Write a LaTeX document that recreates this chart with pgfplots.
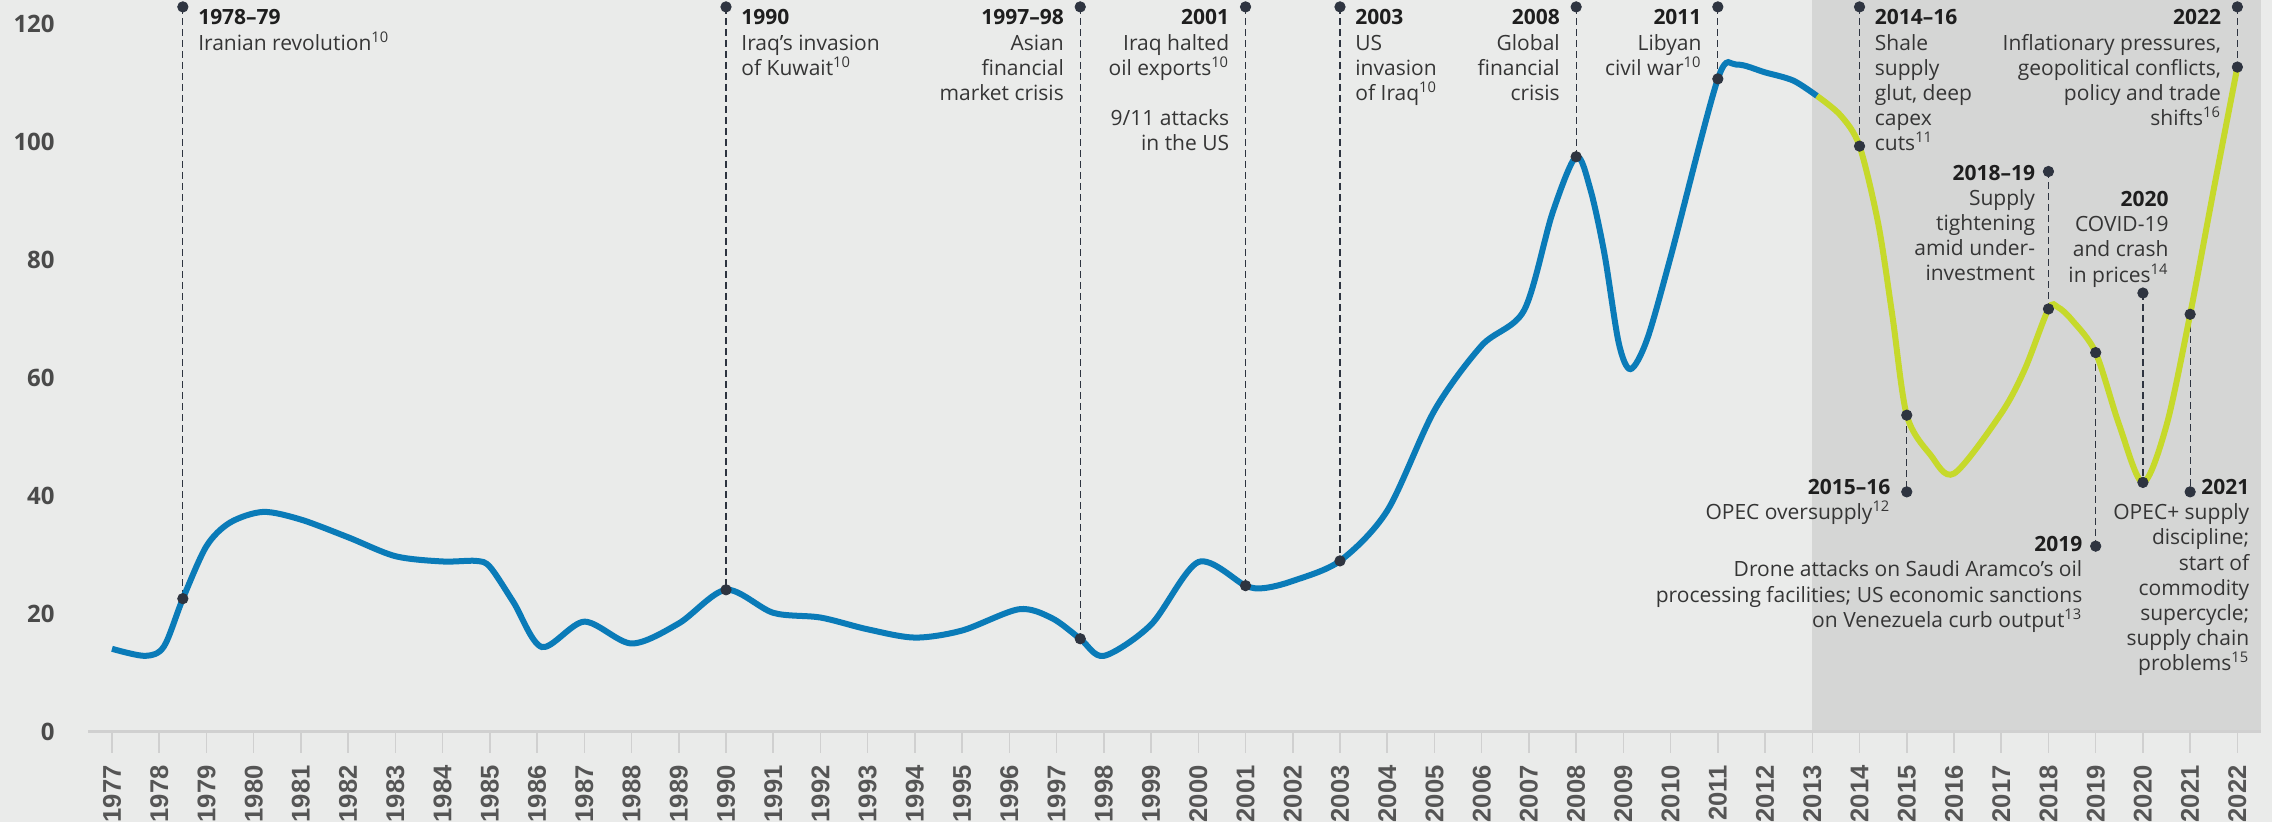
\documentclass[border=0pt]{standalone}
\usepackage{fontspec}
\setmainfont{Open Sans}
\newfontfamily\tickfont{Liberation Sans}
\usepackage{pgfplots}
\pgfplotsset{compat=1.18}

\definecolor{bgc}{HTML}{EAEBEA}
\definecolor{shadec}{HTML}{D5D6D5}
\definecolor{oilblue}{HTML}{0A7BB8}
\definecolor{oilgreen}{HTML}{C6D92B}
\definecolor{dotc}{HTML}{2E3440}
\definecolor{txt}{HTML}{353535}
\definecolor{head}{HTML}{1E1E1E}
\definecolor{tickc}{HTML}{555555}
\definecolor{ylab}{HTML}{4A4A4A}
\definecolor{axc}{HTML}{D0D0D0}

\tikzset{
  annR/.style={anchor=north west, align=left, inner sep=0pt, xshift=7.5pt,
     font=\fontsize{10.5}{12.6}\selectfont, text=txt},
  annL/.style={anchor=north east, align=right, inner sep=0pt, xshift=-8pt,
     font=\fontsize{10.5}{12.6}\selectfont, text=txt},
}

\begin{document}
\begin{tikzpicture}
\fill[bgc] (0,0) rectangle (1136pt,411pt);
\useasboundingbox (0,0) rectangle (1136pt,411pt);
\begin{axis}[
  at={(44.2pt,45pt)}, anchor=south west,
  scale only axis, width=1086.3pt, height=366pt,
  xmin=1976.5, xmax=2022.5, ymin=0, ymax=124.07,
  clip=false, axis on top,
  axis x line*=bottom, axis y line*=left,
  x axis line style={draw=axc, line width=1.5pt, -},
  y axis line style={draw=none},
  tick align=outside,
  major tick length=10.5pt,
  major x tick style={draw=axc, line width=0.75pt},
  major y tick style={draw=none},
  xtick={1977,1978,...,2022},
  ytick={0,20,...,120},
  xticklabel={\pgfmathprintnumber[fixed,precision=0,1000 sep={},assume math mode=true]{\tick}},
  yticklabel={\pgfmathprintnumber[fixed,precision=0,assume math mode=true]{\tick}},
  xticklabel style={yshift=-6pt, rotate=90, anchor=east, inner sep=0pt, text=tickc,
     font=\tickfont\bfseries\fontsize{12.8}{12.8}\selectfont},
  yticklabel style={anchor=east, inner sep=0pt, text=ylab, xshift=-6.2pt,
     font=\bfseries\fontsize{12}{12}\selectfont},
]
% shaded recent period
\fill[shadec] (axis cs:2013,0) rectangle (axis cs:2022.5,124.07);

% dashed annotation leaders
\addplot[dotc, line width=0.6pt, dash pattern=on 3.5pt off 2pt, unbounded coords=jump] coordinates {
 (1978.5,122.9) (1978.5,22.6) (1978.5,nan)
 (1990,122.9) (1990,24.1) (1990,nan)
 (1997.5,122.9) (1997.5,15.8) (1997.5,nan)
 (2001,122.9) (2001,24.8) (2001,nan)
 (2003,122.9) (2003,29.0) (2003,nan)
 (2008,122.9) (2008,97.5) (2008,nan)
 (2011,122.9) (2011,110.7) (2011,nan)
 (2014,122.9) (2014,99.3) (2014,nan)
 (2022,122.9) (2022,112.7) (2022,nan)
 (2018,95.0) (2018,71.7) (2018,nan)
 (2020,74.4) (2020,42.3) (2020,nan)
 (2015,53.7) (2015,40.7) (2015,nan)
 (2019,64.3) (2019,31.5) (2019,nan)
 (2021,70.8) (2021,40.7)
};

% price curve
\addplot[oilblue, line width=3pt, smooth, tension=0.5, line cap=butt] coordinates {
 (1977.0,14.1) (1977.7,12.9) (1978.1,14.5) (1978.5,22.6) (1979.0,31.5) (1979.5,35.5)
 (1980.2,37.3) (1981.0,36.0) (1982.0,33.0) (1983.0,29.8) (1984.0,28.9) (1984.7,29.0)
 (1985.0,28.0) (1985.5,22.0) (1986.1,14.4) (1987.0,18.7) (1988.0,15.0) (1989.0,18.4)
 (1990.0,24.1) (1991.0,20.2) (1992.0,19.4) (1993.0,17.4) (1994.0,16.0) (1995.0,17.2)
 (1996.2,20.8) (1996.9,19.3) (1997.5,15.8) (1998.0,12.9) (1999.0,18.2) (2000.0,28.8)
 (2001.0,24.8) (2001.4,24.4) (2002.0,25.6) (2003.0,29.0) (2004.0,37.5) (2005.0,54.5)
 (2006.0,65.5) (2006.9,71.5) (2007.5,88.0) (2008.0,97.5) (2008.3,92.0) (2008.6,81.0)
 (2008.9,66.0) (2009.15,61.5) (2009.5,66.5) (2010.0,80.5) (2011.0,110.7) (2011.4,113.1)
 (2012.0,111.8) (2012.6,110.4) (2013.1,107.8)
};
\addplot[oilgreen, line width=3pt, smooth, tension=0.5, line cap=butt] coordinates {
 (2013.1,107.8) (2013.6,104.5) (2014.0,99.3) (2014.4,86.0) (2014.7,70.3) (2015.0,53.7)
 (2015.5,47.0) (2016.0,43.8) (2017.0,54.0) (2017.5,61.5) (2018.0,71.7) (2018.2,72.0)
 (2018.5,69.8) (2019.0,64.3) (2019.5,52.0) (2020.0,42.3) (2020.5,52.0) (2021.0,70.8)
 (2021.5,92.0) (2022.0,112.7)
};

% dots
\addplot[only marks, mark=*, mark size=2.6pt, dotc] coordinates {
 (1978.5,122.9) (1978.5,22.6) (1990,122.9) (1990,24.1) (1997.5,122.9) (1997.5,15.8)
 (2001,122.9) (2001,24.8) (2003,122.9) (2003,29.0) (2008,122.9) (2008,97.5)
 (2011,122.9) (2011,110.7) (2014,122.9) (2014,99.3) (2022,122.9) (2022,112.7)
 (2018,95.0) (2018,71.7) (2020,74.4) (2020,42.3) (2015,53.7) (2015,40.7)
 (2019,64.3) (2019,31.5) (2021,70.8) (2021,40.7)
};

% annotations
\node[annR] at (axis cs:1978.5,122.5) {{\bfseries\color{head}1978–79}\\Iranian revolution\textsuperscript{10}};
\node[annR] at (axis cs:1990,122.5) {{\bfseries\color{head}1990}\\Iraq’s invasion\\of Kuwait\textsuperscript{10}};
\node[annL] at (axis cs:1997.5,122.5) {{\bfseries\color{head}1997–98}\\Asian\\financial\\market crisis};
\node[annL] at (axis cs:2001,122.5) {{\bfseries\color{head}2001}\\Iraq halted\\oil exports\textsuperscript{10}\\[12.6pt]9/11 attacks\\in the US};
\node[annR] at (axis cs:2003,122.5) {{\bfseries\color{head}2003}\\US\\invasion\\of Iraq\textsuperscript{10}};
\node[annL] at (axis cs:2008,122.5) {{\bfseries\color{head}2008}\\Global\\financial\\crisis};
\node[annL] at (axis cs:2011,122.5) {{\bfseries\color{head}2011}\\Libyan\\civil war\textsuperscript{10}};
\node[annR] at (axis cs:2014,122.5) {{\bfseries\color{head}2014–16}\\Shale\\supply\\glut, deep\\capex\\cuts\textsuperscript{11}};
\node[annL] at (axis cs:2022,122.5) {{\bfseries\color{head}2022}\\Inflationary pressures,\\geopolitical conflicts,\\policy and trade\\shifts\textsuperscript{16}};
\node[annL, xshift=1.5pt] at (axis cs:2018,96.2) {{\bfseries\color{head}2018–19}\\Supply\\tightening\\amid under-\\investment};
\node[annL, xshift=8pt] at (axis cs:2020.55,91.7) {{\bfseries\color{head}2020}\\COVID-19\\and crash\\in prices\textsuperscript{14}};
\node[annL] at (axis cs:2015,42.9) {{\bfseries\color{head}2015–16}\\OPEC oversupply\textsuperscript{12}};
\node[annL, xshift=1.5pt] at (axis cs:2019,33.2) {{\bfseries\color{head}2019}\\Drone attacks on Saudi Aramco’s oil\\processing facilities; US economic sanctions\\on Venezuela curb output\textsuperscript{13}};
\node[annL, xshift=8pt] at (axis cs:2022.26,42.9) {{\bfseries\color{head}2021}\\OPEC+ supply\\discipline;\\start of\\commodity\\supercycle;\\supply chain\\problems\textsuperscript{15}};
\end{axis}
\end{tikzpicture}
\end{document}
